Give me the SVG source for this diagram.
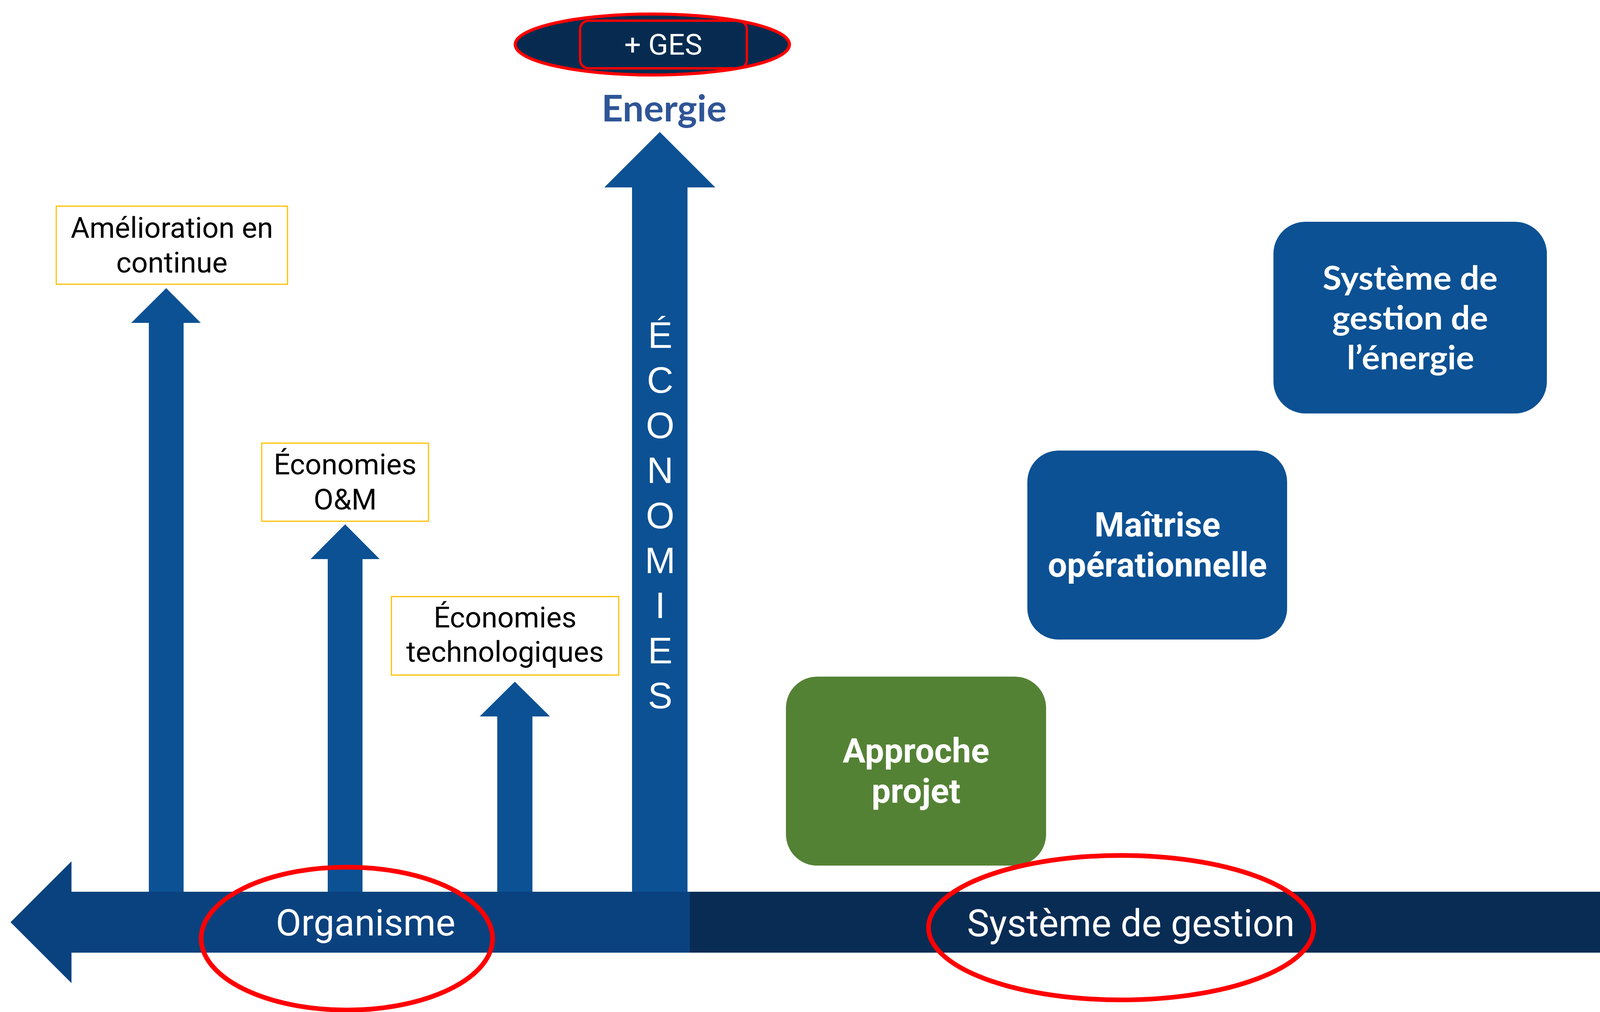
<svg xmlns="http://www.w3.org/2000/svg" width="4799" height="2592" viewBox="0 0 4799 2592">
<defs>
<style>
.varrow{fill:#0c5194}
.lbl{fill:#ffffff;stroke:#ffc000;stroke-width:3}
.rb{font-family:Roboto,"Liberation Sans",sans-serif;text-anchor:middle}
.reg{font-weight:400}
.bold{font-weight:700}
.ob{font-family:Lato,"Open Sans","Liberation Sans",sans-serif;font-weight:700;text-anchor:middle}
.red{fill:none;stroke:#ff0000;stroke-width:12}
.box{fill:#0c5194}
.w{fill:#ffffff}
.k{fill:#000000}
.eco{font-family:"Liberation Sans",Arial,sans-serif;font-size:94px;fill:#ffffff;text-anchor:middle}
</style>
</defs>
<rect x="0" y="0" width="4799" height="2592" fill="#ffffff"/>

<g id="connectors">
  <path id="arrow-amelioration" class="varrow" d="M381,2290 V827 H336 L425.5,738 L514,827 H470 V2290 Z"/>
  <path id="arrow-om" class="varrow" d="M839,2290 V1432 H795 L883.5,1343 L972,1432 H928 V2290 Z"/>
  <path id="arrow-techno" class="varrow" d="M1273,2290 V1835 H1228 L1318,1746 L1408,1835 H1363 V2290 Z"/>
  <path id="arrow-energie" class="varrow" d="M1618,2290 V480 H1547 L1689,338 L1831,480 H1760 V2290 Z"/>
</g>

<g id="axis-organisme">
  <path fill="#0a427f" d="M27,2362 L183,2206 V2284 H1766 V2440 H183 V2518 Z"/>
  <text class="rb reg w" x="936" y="2396" font-size="95">Organisme</text>
</g>
<g id="axis-systeme">
  <path fill="#082c54" d="M1766,2284 H4617 V2206 L4772,2362 L4617,2518 V2440 H1766 Z"/>
  <text class="rb reg w" x="2895" y="2398" font-size="96">Système de gestion</text>
</g>

<g id="economies-label">
  <text class="eco" x="1690" y="891">É</text>
  <text class="eco" x="1690" y="1006">C</text>
  <text class="eco" x="1690" y="1122">O</text>
  <text class="eco" x="1690" y="1237">N</text>
  <text class="eco" x="1690" y="1353">O</text>
  <text class="eco" x="1690" y="1468">M</text>
  <text class="eco" x="1690" y="1583">I</text>
  <text class="eco" x="1690" y="1699">E</text>
  <text class="eco" x="1690" y="1814">S</text>
</g>

<g id="ges">
  <ellipse cx="1670" cy="114" rx="351" ry="78" fill="#072b50" stroke="#ff0000" stroke-width="8"/>
  <rect x="1485" y="53" width="427" height="122" rx="22" ry="22" fill="none" stroke="#ff0000" stroke-width="6"/>
  <text class="rb reg w" x="1698" y="140" font-size="75">+ GES</text>
</g>

<g id="energie">
  <text class="ob" x="1700" y="311" font-size="93" fill="#2f5597" textLength="320" lengthAdjust="spacingAndGlyphs">Energie</text>
</g>

<g id="label-amelioration">
  <rect class="lbl" x="144" y="528" width="592" height="200"/>
  <text class="rb reg k" x="440" y="609" font-size="74">Amélioration en</text>
  <text class="rb reg k" x="440" y="698" font-size="74">continue</text>
</g>
<g id="label-om">
  <rect class="lbl" x="670" y="1135" width="427" height="200"/>
  <text class="rb reg k" x="883.5" y="1215" font-size="74">Économies</text>
  <text class="rb reg k" x="883.5" y="1305" font-size="74">O&amp;M</text>
</g>
<g id="label-techno">
  <rect class="lbl" x="1002" y="1528" width="582" height="201"/>
  <text class="rb reg k" x="1293" y="1607" font-size="74">Économies</text>
  <text class="rb reg k" x="1293" y="1695" font-size="74">technologiques</text>
</g>

<g id="approche-projet">
  <rect x="2012" y="1733" width="666" height="484" rx="80" ry="80" fill="#548235"/>
  <text class="rb bold w" x="2345" y="1953" font-size="87">Approche</text>
  <text class="rb bold w" x="2345" y="2056" font-size="87">projet</text>
</g>

<g id="maitrise">
  <rect class="box" x="2630" y="1154" width="665" height="484" rx="80" ry="80"/>
  <text class="rb bold w" x="2963" y="1374" font-size="87">Maîtrise</text>
  <text class="rb bold w" x="2963" y="1477" font-size="87">opérationnelle</text>
</g>

<g id="systeme-energie">
  <rect class="box" x="3260" y="568" width="700" height="491" rx="82" ry="82"/>
  <text class="ob w" x="3610" y="742" font-size="84" textLength="448" lengthAdjust="spacingAndGlyphs">Système de</text>
  <text class="ob w" x="3610" y="844" font-size="84" textLength="399" lengthAdjust="spacingAndGlyphs">gestion de</text>
  <text class="ob w" x="3611" y="946" font-size="84" textLength="326" lengthAdjust="spacingAndGlyphs">l’énergie</text>
</g>

<g id="iso">
  <text class="ob k" x="4444" y="861" font-size="127" textLength="585" lengthAdjust="spacingAndGlyphs">ISO 50001</text>
</g>

<g id="highlights">
  <ellipse class="red" cx="888" cy="2404" rx="373" ry="183"/>
  <ellipse class="red" cx="2870" cy="2376" rx="493" ry="185"/>
</g>
</svg>
